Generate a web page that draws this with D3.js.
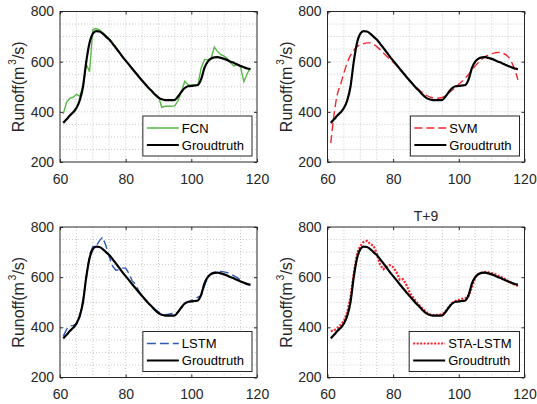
<!DOCTYPE html>
<html>
<head>
<meta charset="utf-8">
<script src="https://cdn.jsdelivr.net/npm/d3@7"></script>
<style>
  body { margin: 0; background: #fff; }
  svg { font-family: "Liberation Sans", Arial, Helvetica, sans-serif; }
</style>
</head>
<body>
<script>
// time steps shared by every series
var timeSteps = [61, 62, 63, 64, 65, 66, 67, 68, 69, 70, 71, 72, 73, 74, 75, 76, 77, 78, 79, 80,
    81, 82, 83, 84, 85, 86, 87, 88, 89, 90, 91, 92, 93, 94, 95, 96, 97, 98, 99, 100,
    101, 102, 103, 104, 105, 106, 107, 108, 109, 110, 111, 112, 113, 114, 115, 116, 117, 118];

var groundtruth = [356, 370, 385, 398, 415, 445, 500, 600, 675, 712, 722, 720, 712, 700, 688, 672, 655, 638, 620, 604,
    588, 572, 556, 540, 525, 510, 495, 482, 468, 457, 450, 447, 447, 447, 448, 462, 480, 495, 502, 503,
    505, 507, 530, 575, 600, 612, 617, 618, 615, 611, 606, 600, 595, 589, 583, 578, 573, 570];

var fcn = [392, 438, 455, 458, 470, 462, 498, 590, 560, 728, 732, 727, 716, 703, 690, 675, 658, 640, 622, 605,
    590, 574, 558, 540, 522, 508, 494, 480, 470, 460, 418, 422, 422, 422, 425, 445, 482, 522, 508, 507,
    507, 508, 575, 608, 608, 612, 658, 640, 628, 622, 612, 595, 583, 588, 578, 520, 552, 575];

var svm = [275, 390, 470, 510, 555, 595, 625, 645, 660, 668, 672, 675, 675, 670, 660, 648, 635, 622, 610, 598,
    585, 570, 555, 540, 525, 511, 498, 486, 476, 467, 460, 456, 454, 455, 458, 466, 476, 487, 498, 510,
    522, 535, 550, 566, 583, 598, 610, 620, 627, 632, 635, 637, 635, 630, 620, 600, 570, 528];

var lstm = [365, 392, 405, 408, 412, 440, 505, 600, 690, 722, 724, 745, 760, 725, 680, 645, 628, 630, 636, 636,
    615, 585, 572, 545, 525, 510, 496, 484, 472, 462, 452, 450, 452, 455, 452, 462, 478, 492, 500, 507,
    512, 520, 525, 565, 600, 615, 620, 622, 623, 621, 618, 612, 605, 598, 588, 578, 570, 568];

var staLstm = [385, 388, 398, 410, 425, 460, 520, 615, 695, 725, 740, 745, 732, 725, 695, 650, 632, 642, 648, 640,
    620, 590, 592, 570, 540, 520, 503, 488, 474, 462, 452, 449, 449, 450, 452, 465, 482, 498, 505, 510,
    514, 516, 525, 560, 598, 613, 618, 620, 619, 616, 612, 606, 600, 593, 585, 577, 570, 565];

var xTicks = [60, 80, 100, 120];
var yTicks = [200, 400, 600, 800];

var width = 537;
var height = 404;
var pw = 197;   // plot width
var ph = 150.5; // plot height
var axisColor = "#262626";

var panels = [
    { pred: fcn, label: "FCN", color: "#57b946", dash: null, lw: 1.4, left: 60, top: 11.5 },
    { pred: svm, label: "SVM", color: "#f0282c", dash: "8,4", lw: 1.4, left: 327.5, top: 11.5 },
    { pred: lstm, label: "LSTM", color: "#2f57b4", dash: "9,4", lw: 1.4, left: 60, top: 227 },
    { pred: staLstm, label: "STA-LSTM", color: "#ff1e2a", dash: "2,1.5", lw: 2.2, left: 327.5, top: 227, title: "T+9" }
];

var svg = d3.select("body").append("svg")
    .attr("width", width)
    .attr("height", height);

var x = d3.scaleLinear().domain([60, 120]).range([0, pw]);
var y = d3.scaleLinear().domain([200, 800]).range([ph, 0]);

panels.forEach(function (p, i) {
    var g = svg.append("g")
        .attr("transform", "translate(" + p.left + "," + p.top + ")");

    // dotted grid, major and minor
    g.append("g").selectAll("line")
        .data(d3.range(65, 120, 5))
        .enter().append("line")
        .attr("x1", function (d) { return x(d); })
        .attr("x2", function (d) { return x(d); })
        .attr("y1", 0).attr("y2", ph)
        .attr("stroke", "#bcbcbc").attr("stroke-width", 0.8)
        .attr("stroke-dasharray", "1,2");
    g.append("g").selectAll("line")
        .data(d3.range(250, 800, 50))
        .enter().append("line")
        .attr("y1", function (d) { return y(d); })
        .attr("y2", function (d) { return y(d); })
        .attr("x1", 0).attr("x2", pw)
        .attr("stroke", "#bcbcbc").attr("stroke-width", 0.8)
        .attr("stroke-dasharray", "1,2");

    g.append("clipPath").attr("id", "clip" + i)
        .append("rect").attr("width", pw).attr("height", ph);

    var line = d3.line()
        .x(function (d, j) { return x(timeSteps[j]); })
        .y(function (d) { return y(d); });

    var lineSmooth = d3.line()
        .curve(d3.curveMonotoneX)
        .x(function (d, j) { return x(timeSteps[j]); })
        .y(function (d) { return y(d); });

    var plot = g.append("g").attr("clip-path", "url(#clip" + i + ")");

    plot.append("path")
        .attr("d", p.label == "SVM" ? lineSmooth(p.pred) : line(p.pred))
        .attr("fill", "none")
        .attr("stroke", p.color)
        .attr("stroke-width", p.lw)
        .attr("stroke-dasharray", p.dash);

    plot.append("path")
        .attr("d", lineSmooth(groundtruth))
        .attr("fill", "none")
        .attr("stroke", "#000")
        .attr("stroke-width", 2.2)
        .attr("stroke-linejoin", "round");

    // axes, ticks pointing inward
    var bottom = g.append("g").attr("transform", "translate(0," + ph + ")")
        .call(d3.axisBottom(x).tickValues(xTicks).tickSizeInner(-3).tickSizeOuter(0).tickPadding(12));
    var left = g.append("g")
        .call(d3.axisLeft(y).tickValues(yTicks).tickSizeInner(-3).tickSizeOuter(0).tickPadding(6));
    g.append("g")
        .call(d3.axisTop(x).tickValues(xTicks).tickSizeInner(-3).tickSizeOuter(0).tickFormat(""));
    g.append("g").attr("transform", "translate(" + pw + ",0)")
        .call(d3.axisRight(y).tickValues(yTicks).tickSizeInner(-3).tickSizeOuter(0).tickFormat(""));

    g.selectAll(".domain").remove();
    g.selectAll(".tick line").attr("stroke", axisColor);
    g.selectAll(".tick text")
        .attr("fill", axisColor)
        .style("font-size", "14px")
        .style("font-family", "'Liberation Sans', Arial, sans-serif");

    g.append("rect")
        .attr("width", pw).attr("height", ph)
        .attr("fill", "none")
        .attr("stroke", axisColor)
        .attr("stroke-width", 1);

    // y label with superscript
    var ylab = g.append("text")
        .attr("transform", "translate(-36," + (ph / 2) + ") rotate(-90)")
        .attr("text-anchor", "middle")
        .attr("fill", axisColor)
        .style("font-size", "16px");
    ylab.append("tspan").text("Runoff(m");
    ylab.append("tspan").attr("dx", 2).attr("dy", -8).style("font-size", "10px").text("3");
    ylab.append("tspan").attr("dy", 8).text("/s)");

    if (p.title) {
        g.append("text")
            .attr("x", pw / 2).attr("y", -6)
            .attr("text-anchor", "middle")
            .attr("fill", axisColor)
            .style("font-size", "14px")
            .text(p.title);
    }

    // legend box in the lower right corner
    var leg = g.append("g");
    var box = leg.append("rect")
        .attr("fill", "#fff")
        .attr("stroke", axisColor)
        .attr("stroke-width", 1);
    var entries = [
        { name: p.label, color: p.color, dash: p.dash, lw: p.lw },
        { name: "Groudtruth", color: "#000", dash: null, lw: 2.2 }
    ];
    var maxW = 0;
    entries.forEach(function (e, k) {
        var ry = 12 + k * 17;
        leg.append("line")
            .attr("x1", 4).attr("x2", 36)
            .attr("y1", ry).attr("y2", ry)
            .attr("stroke", e.color)
            .attr("stroke-width", e.lw)
            .attr("stroke-dasharray", e.dash);
        var t = leg.append("text")
            .attr("x", 39).attr("y", ry).attr("dy", "0.35em")
            .attr("fill", "#000")
            .style("font-size", "13px")
            .text(e.name);
        maxW = Math.max(maxW, t.node().getComputedTextLength());
    });
    var bw = 39 + maxW + 8;
    var bh = 40;
    box.attr("width", bw).attr("height", bh);
    leg.attr("transform", "translate(" + (pw - 5 - bw) + "," + (ph - 6 - bh) + ")");
});
</script>
</body>
</html>
